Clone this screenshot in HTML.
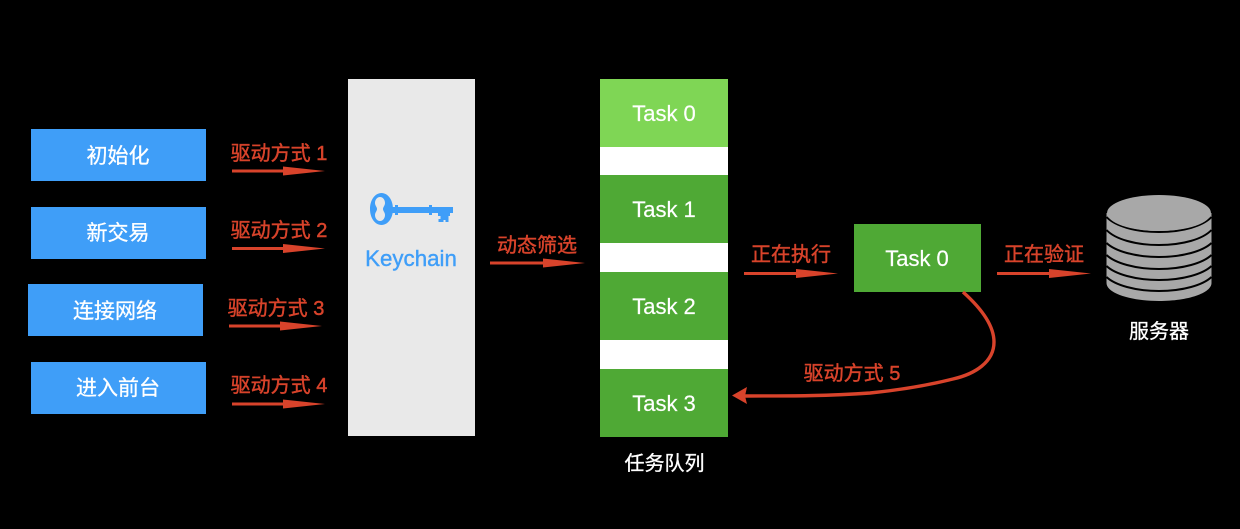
<!DOCTYPE html>
<html>
<head>
<meta charset="utf-8">
<style>
html,body{margin:0;padding:0;background:#000;width:1240px;height:529px;overflow:hidden}
svg{display:block}
text{font-family:"Liberation Sans","Noto Sans CJK SC",sans-serif}
.w{fill:#fff;stroke:#fff;stroke-width:.3;font-size:21px;text-anchor:middle}
.r{fill:#d8432b;stroke:#d8432b;stroke-width:.45;font-size:20px;text-anchor:middle}
.t{fill:#fff;stroke:#fff;stroke-width:.2;font-size:22px;text-anchor:middle}
</style>
</head>
<body>
<svg width="1240" height="529" viewBox="0 0 1240 529" xmlns="http://www.w3.org/2000/svg">
<rect width="1240" height="529" fill="#000"/>

<rect x="31" y="129" width="175" height="52" fill="#3f9ef8"/>
<rect x="31" y="207" width="175" height="52" fill="#3f9ef8"/>
<rect x="28" y="284" width="175" height="52" fill="#3f9ef8"/>
<rect x="31" y="362" width="175" height="52" fill="#3f9ef8"/>
<text class="w" x="118" y="163">初始化</text>
<text class="w" x="118" y="240">新交易</text>
<text class="w" x="115" y="318">连接网络</text>
<text class="w" x="118" y="395">进入前台</text>

<text class="r" x="279" y="160">驱动方式 1</text>
<text class="r" x="279" y="237">驱动方式 2</text>
<text class="r" x="276" y="315">驱动方式 3</text>
<text class="r" x="279" y="392">驱动方式 4</text>
<g fill="#d8432b">
<path d="M232 169.500h51v-3l42 4.500-42 4.500v-3h-51z"/>
<path d="M232 247h51v-3l42 4.500-42 4.500v-3h-51z"/>
<path d="M229 324.500h51v-3l42 4.500-42 4.500v-3h-51z"/>
<path d="M232 402.500h51v-3l42 4.500-42 4.500v-3h-51z"/>
<path d="M490 261.500h53v-3l42 4.500-42 4.500v-3h-53z"/>
<path d="M744 272h52v-3l42 4.500-42 4.500v-3h-52z"/>
<path d="M997 272h52v-3l42 4.500-42 4.500v-3h-52z"/>
</g>

<rect x="348" y="79" width="127" height="357" fill="#e9e9e9"/>
<g fill="#3f9ef8">
<path fill-rule="evenodd" d="M381.500 193c6.500 0 11.500 7 11.500 16s-5 16-11.500 16-11.500-7-11.500-16 5-16 11.500-16zM380 197c-3 0-5 3-5 6 0 2.500 2 4 2 6s-2 3.500-2 6c0 3 2 6 5 6s5-3 5-6c0-2.500-2-4-2-6s2-3.500 2-6c0-3-2-6-5-6z"/>
<rect x="391" y="207" width="62" height="6"/>
<rect x="395" y="205" width="3" height="10"/>
<rect x="429" y="205" width="3" height="10"/>
<path d="M438 213h12v3h-1.500v6h-3v-2h-2v2h-5v-3h2v-3h-2.500z"/>
</g>
<text x="411" y="266" fill="#3f9ef8" stroke="#3f9ef8" stroke-width=".4" font-size="22.300" text-anchor="middle">Keychain</text>

<text class="r" x="537" y="252">动态筛选</text>
<text class="r" x="791" y="261">正在执行</text>
<text class="r" x="1044" y="261">正在验证</text>

<rect x="600" y="79" width="128" height="358" fill="#fff"/>
<rect x="600" y="79" width="128" height="68" fill="#7fd655"/>
<rect x="600" y="175" width="128" height="68" fill="#4fa935"/>
<rect x="600" y="272" width="128" height="68" fill="#4fa935"/>
<rect x="600" y="369" width="128" height="68" fill="#4fa935"/>
<text class="t" x="664" y="121">Task 0</text>
<text class="t" x="664" y="217">Task 1</text>
<text class="t" x="664" y="314">Task 2</text>
<text class="t" x="664" y="411">Task 3</text>
<text x="664.500" y="470" fill="#fff" stroke="#fff" stroke-width=".3" font-size="20" text-anchor="middle">任务队列</text>

<rect x="854" y="224" width="127" height="68" fill="#4fa935"/>
<text class="t" x="917" y="266">Task 0</text>

<path d="M963 292C982 309 994 326 994 342C994 362 975 374 953 379C925 386 900 390 870 393C830 396 790 396 745 396" fill="none" stroke="#d8432b" stroke-width="3.400"/>
<path d="M732 395.500L747 387L745 396L747 404z" fill="#d8432b"/>
<text class="r" x="852" y="380">驱动方式 5</text>

<path d="M1106.500 213V283C1106.500 293 1130 301 1159 301S1211.500 293 1211.500 283V213z" fill="#a8a8a8"/>
<g fill="none" stroke="#000" stroke-width="2">
<path d="M1106.500 217C1115 226 1135 232 1159 232S1203 226 1211.500 217"/>
<path d="M1106.500 230C1115 239 1135 245 1159 245S1203 239 1211.500 230"/>
<path d="M1106.500 243C1115 251 1135 257 1159 257S1203 251 1211.500 243"/>
<path d="M1106.500 255C1115 263 1135 269 1159 269S1203 263 1211.500 255"/>
<path d="M1106.500 266C1115 274 1135 280 1159 280S1203 274 1211.500 266"/>
<path d="M1106.500 277C1115 285 1135 291 1159 291S1203 285 1211.500 277"/>
</g>
<ellipse cx="1159" cy="213" rx="52" ry="18" fill="#a8a8a8"/>
<text x="1159" y="338" fill="#fff" stroke="#fff" stroke-width=".3" font-size="20" text-anchor="middle">服务器</text>
</svg>
</body>
</html>
